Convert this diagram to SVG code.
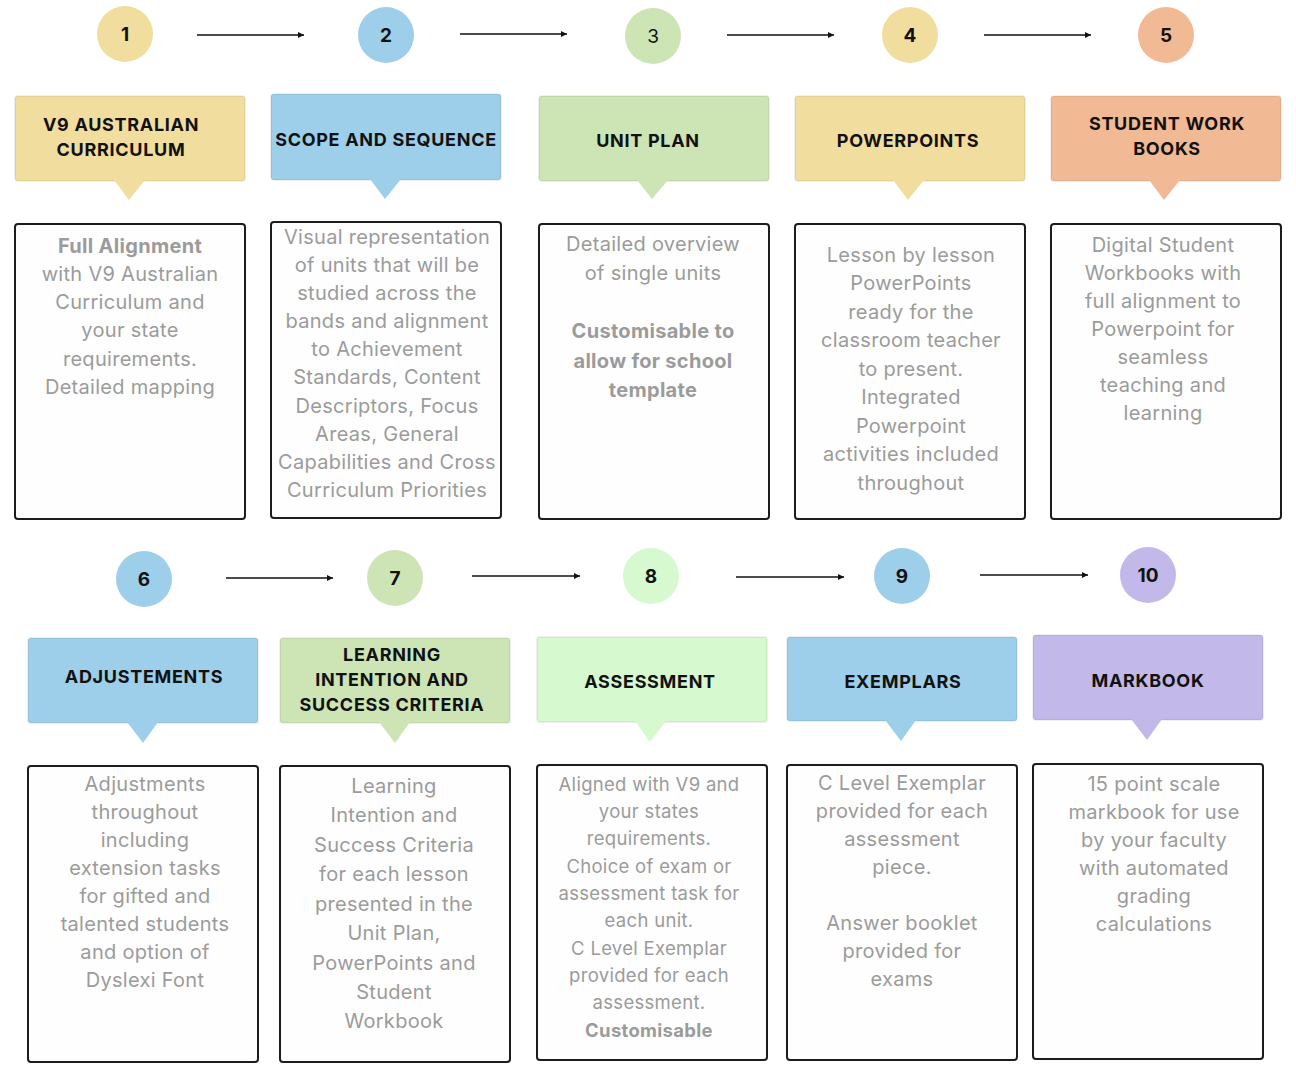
<svg xmlns="http://www.w3.org/2000/svg" width="1296" height="1080" viewBox="0 0 1296 1080">
<defs>
<marker id="ah" markerWidth="8" markerHeight="8" refX="6" refY="3" orient="auto" markerUnits="userSpaceOnUse">
<path d="M0,0 L6,3 L0,6 Z" fill="#111"/>
</marker>
<style>
.yel{fill:#F1DE9E}
.blu{fill:#9DCEEA}
.grn{fill:#CDE4B4}
.org{fill:#F2BA94}
.lgr{fill:#D6F9D0}
.pur{fill:#C2B9EA}
.hdr{stroke:#000;stroke-opacity:0.06;stroke-width:2}
.box{fill:#FEFEFE;stroke:#1c1c1c;stroke-width:2}
.num{font-family:Inter,"Liberation Sans",sans-serif;font-size:19px;font-weight:700;fill:#111;text-anchor:middle}
.ht{font-family:Inter,"Liberation Sans",sans-serif;font-size:18px;font-weight:700;fill:#111;text-anchor:middle;letter-spacing:0.7px}
.bt{font-family:Inter,"Liberation Sans",sans-serif;font-size:20px;font-weight:400;fill:#9B9B9B;text-anchor:middle;letter-spacing:0.3px}
.bt8{font-size:18.5px}
.b{font-weight:700}
.con{stroke:#111;stroke-width:1.5;fill:none}
</style>
</defs>
<rect width="1296" height="1080" fill="#FFFFFF"/>

<g id="connectors">
<line class="con" x1="197" y1="35" x2="304" y2="35" marker-end="url(#ah)"/>
<line class="con" x1="460" y1="34" x2="567" y2="34" marker-end="url(#ah)"/>
<line class="con" x1="727" y1="35" x2="834" y2="35" marker-end="url(#ah)"/>
<line class="con" x1="984" y1="35" x2="1091" y2="35" marker-end="url(#ah)"/>
<line class="con" x1="226" y1="578" x2="333" y2="578" marker-end="url(#ah)"/>
<line class="con" x1="472" y1="576" x2="580" y2="576" marker-end="url(#ah)"/>
<line class="con" x1="736" y1="577" x2="844" y2="577" marker-end="url(#ah)"/>
<line class="con" x1="980" y1="575" x2="1088" y2="575" marker-end="url(#ah)"/>
</g>

<!-- Step 1 -->
<g id="step1">
<circle class="yel" cx="125" cy="34" r="28"/>
<text class="num" x="125" y="41">1</text>
<rect class="yel hdr" x="15" y="96" width="230" height="85" rx="3"/>
<path class="yel" d="M114,180 L145,180 L129,200 Z"/>
<text class="ht" x="121" y="131">V9 AUSTRALIAN</text>
<text class="ht" x="121" y="156">CURRICULUM</text>
<rect class="box" x="15" y="224" width="230" height="295" rx="3"/>
<text class="bt" x="130"><tspan class="b" x="130" y="253">Full Alignment</tspan><tspan x="130" y="281">with V9 Australian</tspan><tspan x="130" y="309">Curriculum and</tspan><tspan x="130" y="337">your state</tspan><tspan x="130" y="366">requirements.</tspan><tspan x="130" y="394">Detailed mapping</tspan></text>
</g>

<!-- Step 2 -->
<g id="step2">
<circle class="blu" cx="386" cy="35" r="28"/>
<text class="num" x="386" y="42">2</text>
<rect class="blu hdr" x="271" y="94" width="230" height="86" rx="3"/>
<path class="blu" d="M370,179 L401,179 L385,199 Z"/>
<text class="ht" x="386" y="146">SCOPE AND SEQUENCE</text>
<rect class="box" x="271" y="222" width="230" height="296" rx="3"/>
<text class="bt"><tspan x="387" y="244">Visual representation</tspan><tspan x="387" y="272">of units that will be</tspan><tspan x="387" y="300">studied across the</tspan><tspan x="387" y="328">bands and alignment</tspan><tspan x="387" y="356">to Achievement</tspan><tspan x="387" y="384">Standards, Content</tspan><tspan x="387" y="413">Descriptors, Focus</tspan><tspan x="387" y="441">Areas, General</tspan><tspan x="387" y="469">Capabilities and Cross</tspan><tspan x="387" y="497">Curriculum Priorities</tspan></text>
</g>

<!-- Step 3 -->
<g id="step3">
<circle class="grn" cx="653" cy="36" r="28"/>
<text class="num" x="653" y="43" style="font-weight:400">3</text>
<rect class="grn hdr" x="539" y="96" width="230" height="85" rx="3"/>
<path class="grn" d="M637,180 L668,180 L652,199 Z"/>
<text class="ht" x="648" y="147">UNIT PLAN</text>
<rect class="box" x="539" y="224" width="230" height="295" rx="3"/>
<text class="bt"><tspan x="653" y="251">Detailed overview</tspan><tspan x="653" y="280">of single units</tspan><tspan class="b" x="653" y="338">Customisable to</tspan><tspan class="b" x="653" y="368">allow for school</tspan><tspan class="b" x="653" y="397">template</tspan></text>
</g>

<!-- Step 4 -->
<g id="step4">
<circle class="yel" cx="910" cy="35" r="28"/>
<text class="num" x="910" y="42">4</text>
<rect class="yel hdr" x="795" y="96" width="230" height="85" rx="3"/>
<path class="yel" d="M893,180 L924,180 L908,200 Z"/>
<text class="ht" x="908" y="147">POWERPOINTS</text>
<rect class="box" x="795" y="224" width="230" height="295" rx="3"/>
<text class="bt"><tspan x="911" y="262">Lesson by lesson</tspan><tspan x="911" y="290">PowerPoints</tspan><tspan x="911" y="319">ready for the</tspan><tspan x="911" y="347">classroom teacher</tspan><tspan x="911" y="376">to present.</tspan><tspan x="911" y="404">Integrated</tspan><tspan x="911" y="433">Powerpoint</tspan><tspan x="911" y="461">activities included</tspan><tspan x="911" y="490">throughout</tspan></text>
</g>

<!-- Step 5 -->
<g id="step5">
<circle class="org" cx="1166" cy="35" r="28"/>
<text class="num" x="1166" y="42">5</text>
<rect class="org hdr" x="1051" y="96" width="230" height="85" rx="3"/>
<path class="org" d="M1149,180 L1180,180 L1164,200 Z"/>
<text class="ht" x="1167" y="130">STUDENT WORK</text>
<text class="ht" x="1167" y="155">BOOKS</text>
<rect class="box" x="1051" y="224" width="230" height="295" rx="3"/>
<text class="bt"><tspan x="1163" y="252">Digital Student</tspan><tspan x="1163" y="280">Workbooks with</tspan><tspan x="1163" y="308">full alignment to</tspan><tspan x="1163" y="336">Powerpoint for</tspan><tspan x="1163" y="364">seamless</tspan><tspan x="1163" y="392">teaching and</tspan><tspan x="1163" y="420">learning</tspan></text>
</g>

<!-- Step 6 -->
<g id="step6">
<circle class="blu" cx="144" cy="579" r="28"/>
<text class="num" x="144" y="586">6</text>
<rect class="blu hdr" x="28" y="638" width="230" height="85" rx="3"/>
<path class="blu" d="M127,722 L158,722 L143,743 Z"/>
<text class="ht" x="144" y="683">ADJUSTEMENTS</text>
<rect class="box" x="28" y="766" width="230" height="296" rx="3"/>
<text class="bt"><tspan x="145" y="791">Adjustments</tspan><tspan x="145" y="819">throughout</tspan><tspan x="145" y="847">including</tspan><tspan x="145" y="875">extension tasks</tspan><tspan x="145" y="903">for gifted and</tspan><tspan x="145" y="931">talented students</tspan><tspan x="145" y="959">and option of</tspan><tspan x="145" y="987">Dyslexi Font</tspan></text>
</g>

<!-- Step 7 -->
<g id="step7">
<circle class="grn" cx="395" cy="578" r="28"/>
<text class="num" x="395" y="585">7</text>
<rect class="grn hdr" x="280" y="638" width="230" height="85" rx="3"/>
<path class="grn" d="M379,722 L410,722 L395,743 Z"/>
<text class="ht" x="392" y="661">LEARNING</text>
<text class="ht" x="392" y="686">INTENTION AND</text>
<text class="ht" x="392" y="711">SUCCESS CRITERIA</text>
<rect class="box" x="280" y="766" width="230" height="296" rx="3"/>
<text class="bt"><tspan x="394" y="793">Learning</tspan><tspan x="394" y="822">Intention and</tspan><tspan x="394" y="852">Success Criteria</tspan><tspan x="394" y="881">for each lesson</tspan><tspan x="394" y="911">presented in the</tspan><tspan x="394" y="940">Unit Plan,</tspan><tspan x="394" y="970">PowerPoints and</tspan><tspan x="394" y="999">Student</tspan><tspan x="394" y="1028">Workbook</tspan></text>
</g>

<!-- Step 8 -->
<g id="step8">
<circle class="lgr" cx="651" cy="576" r="28"/>
<text class="num" x="651" y="583">8</text>
<rect class="lgr hdr" x="537" y="637" width="230" height="85" rx="3"/>
<path class="lgr" d="M635,721 L666,721 L650,742 Z"/>
<text class="ht" x="650" y="688">ASSESSMENT</text>
<rect class="box" x="537" y="765" width="230" height="295" rx="3"/>
<text class="bt bt8"><tspan x="649" y="791">Aligned with V9 and</tspan><tspan x="649" y="818">your states</tspan><tspan x="649" y="845">requirements.</tspan><tspan x="649" y="873">Choice of exam or</tspan><tspan x="649" y="900">assessment task for</tspan><tspan x="649" y="927">each unit.</tspan><tspan x="649" y="955">C Level Exemplar</tspan><tspan x="649" y="982">provided for each</tspan><tspan x="649" y="1009">assessment.</tspan><tspan class="b" x="649" y="1037">Customisable</tspan></text>
</g>

<!-- Step 9 -->
<g id="step9">
<circle class="blu" cx="902" cy="576" r="28"/>
<text class="num" x="902" y="583">9</text>
<rect class="blu hdr" x="787" y="637" width="230" height="84" rx="3"/>
<path class="blu" d="M885,720 L916,720 L901,741 Z"/>
<text class="ht" x="903" y="688">EXEMPLARS</text>
<rect class="box" x="787" y="765" width="230" height="295" rx="3"/>
<text class="bt"><tspan x="902" y="790">C Level Exemplar</tspan><tspan x="902" y="818">provided for each</tspan><tspan x="902" y="846">assessment</tspan><tspan x="902" y="874">piece.</tspan><tspan x="902" y="930">Answer booklet</tspan><tspan x="902" y="958">provided for</tspan><tspan x="902" y="986">exams</tspan></text>
</g>

<!-- Step 10 -->
<g id="step10">
<circle class="pur" cx="1148" cy="575" r="28"/>
<text class="num" x="1148" y="582">10</text>
<rect class="pur hdr" x="1033" y="635" width="230" height="85" rx="3"/>
<path class="pur" d="M1131,719 L1162,719 L1147,740 Z"/>
<text class="ht" x="1148" y="687">MARKBOOK</text>
<rect class="box" x="1033" y="764" width="230" height="295" rx="3"/>
<text class="bt"><tspan x="1154" y="791">15 point scale</tspan><tspan x="1154" y="819">markbook for use</tspan><tspan x="1154" y="847">by your faculty</tspan><tspan x="1154" y="875">with automated</tspan><tspan x="1154" y="903">grading</tspan><tspan x="1154" y="931">calculations</tspan></text>
</g>
</svg>
